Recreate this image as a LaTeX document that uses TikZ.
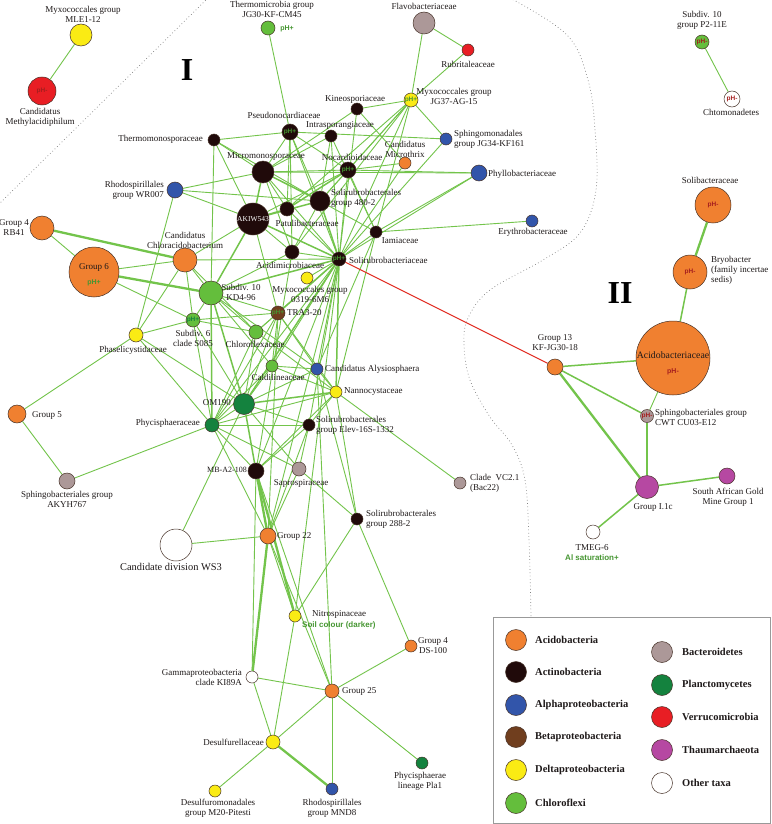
\documentclass[tikz,border=0pt]{standalone}
\usepackage{fontspec}
\setmainfont{Liberation Serif}
\setsansfont{Liberation Sans}
\usetikzlibrary{backgrounds}
\definecolor{cAcido}{RGB}{240,128,48}
\definecolor{cActino}{RGB}{32,10,10}
\definecolor{cAlpha}{RGB}{50,85,170}
\definecolor{cBeta}{RGB}{112,62,30}
\definecolor{cDelta}{RGB}{250,235,20}
\definecolor{cChloro}{RGB}{100,190,60}
\definecolor{cBacter}{RGB}{172,152,152}
\definecolor{cPlancto}{RGB}{20,130,62}
\definecolor{cVerru}{RGB}{232,30,36}
\definecolor{cThaum}{RGB}{182,72,162}
\definecolor{cEdge}{RGB}{115,196,75}
\definecolor{cPlus}{RGB}{70,150,50}
\definecolor{cMinus}{RGB}{165,30,30}
\definecolor{cBorder}{RGB}{70,50,40}
\definecolor{cText}{RGB}{30,25,25}
\tikzset{
 nd/.style={circle, draw=cBorder, line width=0.5pt, inner sep=0pt, minimum size=#1,
   font=\sffamily\bfseries\fontsize{6.5}{6.5}\selectfont},
 fAcido/.style={fill=cAcido}, fActino/.style={fill=cActino}, fAlpha/.style={fill=cAlpha},
 fBeta/.style={fill=cBeta}, fDelta/.style={fill=cDelta}, fChloro/.style={fill=cChloro},
 fBacter/.style={fill=cBacter}, fPlancto/.style={fill=cPlancto}, fVerru/.style={fill=cVerru},
 fThaum/.style={fill=cThaum}, fOther/.style={fill=white},
 plus/.style={text=cPlus}, minus/.style={text=cMinus},
 lbl/.style={text=cText, inner sep=0pt, font=\fontsize{9}{10}\selectfont},
 tag/.style={text=cPlus, inner sep=0pt, font=\sffamily\bfseries\fontsize{8}{9}\selectfont},
 ed/.style={draw=cEdge, line width=0.9pt},
 edm/.style={draw=cEdge, line width=1.5pt},
 edt/.style={draw=cEdge, line width=2.3pt},
 dotline/.style={draw=gray, line width=0.7pt, dash pattern=on 0.7pt off 2.6pt},
 legc/.style={circle, draw=cBorder, line width=0.5pt, minimum size=21pt, inner sep=0pt},
 legt/.style={text=cText, anchor=west, inner sep=0pt, font=\bfseries\fontsize{10.5}{12}\selectfont}
}
\begin{document}
\begin{tikzpicture}[x=1pt,y=-1pt]
\useasboundingbox (0,0) rectangle (771,824);
% dotted separators
\draw[dotline] (208,-2) -- (-2,205);
\draw[dotline] plot[smooth, tension=0.6] coordinates {(510,-2) (567,35) (588,80) (595,130) (596,190) (580,233) (543,260) (490,290) (468,318) (464,345) (470,380) (490,417) (512,445) (525,480) (529,540) (531,617)};
% big labels
\node[font=\bfseries\fontsize{32}{32}\selectfont, inner sep=0pt] (romI) at (187,70) {I};
\node[font=\bfseries\fontsize{32}{32}\selectfont, inner sep=0pt] (romII) at (620,293) {II};
% ---------------- nodes ----------------
\node[nd=22pt, fDelta] (mle) at (81,35) {};
\node[nd=28pt, fVerru, minus] (meth) at (42,91) {pH-};
\node[nd=14pt, fChloro] (thm) at (268,28) {};
\node[nd=22pt, fBacter] (flavo) at (424,23) {};
\node[nd=12pt, fVerru] (rubri) at (468,50) {};
\node[nd=14pt, fDelta, plus] (jg37) at (411,100) {pH+};
\node[nd=12pt, fAlpha] (jg34) at (446,139) {};
\node[nd=16pt, fAlpha] (phyl) at (479,173) {};
\node[nd=12pt, fAcido] (mx) at (405,163) {};
\node[nd=12pt, fActino] (kin) at (357,109) {};
\node[nd=16pt, fActino, plus] (pseu) at (290,132) {pH+};
\node[nd=12pt, fActino] (intra) at (331,136) {};
\node[nd=12pt, fActino] (thmo) at (214,140) {};
\node[nd=22pt, fActino] (micro) at (263,172) {};
\node[nd=16pt, fActino, plus] (noca) at (348,170) {pH+};
\node[nd=20pt, fActino] (s480) at (320,201) {};
\node[nd=30pt, fActino, text=white, font=\fontsize{7.5}{8}\selectfont] (akiw) at (253,219) {AKIW543};
\node[nd=14pt, fActino] (patu) at (287,209) {};
\node[nd=12pt, fActino] (iami) at (376,232) {};
\node[nd=14pt, fActino] (acid) at (292,252) {};
\node[nd=14pt, fActino, plus] (solr) at (339,259) {pH+};
\node[nd=12pt, fDelta] (my0319) at (307,278) {};
\node[nd=12pt, fAlpha] (eryth) at (532,221) {};
\node[nd=16pt, fAlpha] (wr007) at (175,190) {};
\node[nd=24pt, fAcido] (rb41) at (42,228) {};
\node[nd=50pt, fAcido] (g6) at (94,272) {};
\node[nd=24pt, fAcido] (cc) at (185,260) {};
\node[nd=24pt, fChloro] (s10) at (211,293) {};
\node[nd=14pt, fChloro, text=cPlancto] (s085) at (193,320) {pH+};
\node[nd=14pt, fDelta] (phas) at (136,335) {};
\node[nd=14pt, fBeta, plus] (tra) at (278,313) {pH+};
\node[nd=14pt, fChloro] (cf) at (256,332) {};
\node[nd=12pt, fChloro] (cd) at (272,366) {};
\node[nd=12pt, fAlpha] (aly) at (317,369) {};
\node[nd=12pt, fDelta] (nann) at (336,392) {};
\node[nd=21pt, fPlancto] (om190) at (244,404) {};
\node[nd=14pt, fPlancto] (phyc) at (212,425) {};
\node[nd=18pt, fAcido] (g5) at (17,414) {};
\node[nd=16pt, fBacter] (akyh) at (67,481) {};
\node[nd=12pt, fActino] (elev) at (309,425) {};
\node[nd=16pt, fActino] (mb) at (256,471) {};
\node[nd=14pt, fBacter] (sapr) at (299,469) {};
\node[nd=12pt, fBacter] (vc21) at (460,483) {};
\node[nd=12pt, fActino] (s288) at (357,519) {};
\node[nd=16pt, fAcido] (g22) at (268,536) {};
\node[nd=32pt, fOther] (ws3) at (176,545) {};
\node[nd=12pt, fDelta] (nitro) at (295,616) {};
\node[nd=12pt, fAcido] (ds100) at (411,646) {};
\node[nd=12pt, fOther] (ki89) at (252,677) {};
\node[nd=14pt, fAcido] (g25) at (332,691) {};
\node[nd=14pt, fDelta] (desf) at (273,742) {};
\node[nd=12pt, fPlancto] (pla1) at (422,763) {};
\node[nd=12pt, fDelta] (m20) at (215,791) {};
\node[nd=12pt, fAlpha] (mnd8) at (332,789) {};
\node[nd=14pt, fChloro, minus] (p211) at (702,42) {pH-};
\node[nd=16pt, fOther, minus] (chto) at (732,99) {pH-};
\node[nd=36pt, fAcido, minus] (soli) at (713,205) {pH-};
\node[nd=34pt, fAcido, minus] (bryo) at (690,272) {pH-};
\node[nd=74pt, fAcido] (acidob) at (673,358) {};
\node[nd=16pt, fAcido] (g13) at (555,367) {};
\node[nd=13pt, fBacter, minus] (cwt) at (647,416) {pH-};
\node[nd=23pt, fThaum] (gi1c) at (647,487) {};
\node[nd=16pt, fThaum] (safr) at (727,476) {};
\node[nd=14pt, fOther] (tmeg) at (593,532) {};
% texts inside big nodes
\node[lbl, font=\fontsize{9.8}{10}\selectfont] (acidobt) at (673,355) {Acidobacteriaceae};
\node[inner sep=0pt, text=cMinus, font=\sffamily\bfseries\fontsize{7}{7}\selectfont] (acidobp) at (673,372) {pH-};
\node[lbl] (g6t) at (94,267) {Group 6};
\node[inner sep=0pt, text=cPlus, font=\sffamily\bfseries\fontsize{7}{7}\selectfont] (g6p) at (94,283) {pH+};
% ---------------- labels ----------------
\node[lbl, align=center] (mleL) at (83,14) {Myxococcales group\\MLE1-12};
\node[lbl, align=center] (methL) at (40,117) {Candidatus\\Methylacidiphilum};
\node[lbl, align=center] (thmL) at (272,9) {Thermomicrobia group\\JG30-KF-CM45};
\node[tag, font=\sffamily\bfseries\fontsize{7}{7}\selectfont] (thmT) at (287,29) {pH+};
\node[lbl] (flavoL) at (424,6) {Flavobacteriaceae};
\node[lbl] (rubriL) at (468,64) {Rubritaleaceae};
\node[lbl, align=center] (jg37L) at (454,96) {Myxococcales group\\JG37-AG-15};
\node[lbl, align=left, anchor=west] (jg34L) at (454,139) {Sphingomonadales\\group JG34-KF161};
\node[lbl, anchor=west] (phylL) at (488,174) {Phyllobacteriaceae};
\node[lbl, align=center] (mxL) at (405,149) {Candidatus\\Microthrix};
\node[lbl] (kinL) at (355,99) {Kineosporiaceae};
\node[lbl] (pseuL) at (284,115) {Pseudonocardiaceae};
\node[lbl] (intraL) at (340,125) {Intrasporangiaceae};
\node[lbl, anchor=east] (thmoL) at (203,139) {Thermomonosporaceae};
\node[lbl] (microL) at (266,156) {Micromonosporaceae};
\node[lbl] (nocaL) at (352,157) {Nocardioidaceae};
\node[lbl, align=left, anchor=west] (s480L) at (331,198) {Solirubrobacterales\\group 480-2};
\node[lbl] (patuL) at (307,223) {Patulibacteraceae};
\node[lbl] (iamiL) at (400,241) {Iamiaceae};
\node[lbl] (acidL) at (290,265) {Acidimicrobiaceae};
\node[lbl, anchor=west] (solrL) at (349,260) {Solirubrobacteriaceae};
\node[lbl, align=center] (my0319L) at (310,294) {Myxococcales group\\0319-6M6};
\node[lbl] (erythL) at (533,232) {Erythrobacteraceae};
\node[lbl, align=right, anchor=east] (wr007L) at (164,190) {Rhodospirillales\\group WR007};
\node[lbl, align=center] (rb41L) at (14,228) {Group 4\\RB41};
\node[lbl, align=center] (ccL) at (185,240) {Candidatus\\Chloracidobacterium};
\node[lbl, align=center] (s10L) at (241,292) {Subdiv. 10\\KD4-96};
\node[lbl, align=center] (s085L) at (193,338) {Subdiv. 6\\clade S085};
\node[lbl] (phasL) at (133,350) {Phaselicystidaceae};
\node[lbl, anchor=west] (traL) at (287,313) {TRA3-20};
\node[lbl] (cfL) at (255,344) {Chloroflexaceae};
\node[lbl] (cdL) at (278,377) {Caldilineaceae};
\node[lbl, anchor=west] (alyL) at (325,369) {Candidatus Alysiosphaera};
\node[lbl, anchor=west] (nannL) at (344,392) {Nannocystaceae};
\node[lbl, anchor=east] (om190L) at (231,403) {OM190};
\node[lbl, anchor=east] (phycL) at (200,423) {Phycisphaeraceae};
\node[lbl, anchor=west] (g5L) at (32,415) {Group 5};
\node[lbl, align=center] (akyhL) at (67,499) {Sphingobacteriales group\\AKYH767};
\node[lbl, align=left, anchor=west] (elevL) at (316,425) {Solirubrobacterales\\group Elev-16S-1332};
\node[lbl, anchor=east, font=\fontsize{8}{9}\selectfont] (mbL) at (247,470) {MB-A2-108};
\node[lbl] (saprL) at (301,483) {Saprospiraceae};
\node[lbl, align=left, anchor=west] (vc21L) at (470,483) {Clade \ VC2.1\\(Bac22)};
\node[lbl, align=left, anchor=west] (s288L) at (366,519) {Solirubrobacterales\\group 288-2};
\node[lbl, anchor=west] (g22L) at (277,536) {Group 22};
\node[lbl, font=\fontsize{10.4}{11}\selectfont] (ws3L) at (171,567) {Candidate division WS3};
\node[lbl, anchor=west] (nitroL) at (312,614) {Nitrospinaceae};
\node[tag, anchor=west] (nitroT) at (302,625) {Soil colour (darker)};
\node[lbl, align=center] (ds100L) at (433,646) {Group 4\\DS-100};
\node[lbl, align=right, anchor=east] (ki89L) at (242,677) {Gammaproteobacteria\\clade KI89A};
\node[lbl, anchor=west] (g25L) at (342,691) {Group 25};
\node[lbl, anchor=east] (desfL) at (264,742) {Desulfurellaceae};
\node[lbl, align=center] (pla1L) at (420,781) {Phycisphaerae\\lineage Pla1};
\node[lbl, align=center] (m20L) at (218,808) {Desulfuromonadales\\group M20-Pitesti};
\node[lbl, align=center] (mnd8L) at (332,808) {Rhodospirillales\\group MND8};
\node[lbl, align=center] (p211L) at (702,20) {Subdiv. 10\\group P2-11E};
\node[lbl] (chtoL) at (731,112) {Chtomonadetes};
\node[lbl] (soliL) at (710,180) {Solibacteraceae};
\node[lbl, align=left, anchor=west] (bryoL) at (711,270) {Bryobacter\\(family incertae\\sedis)};
\node[lbl, align=center] (g13L) at (555,343) {Group 13\\KF-JG30-18};
\node[lbl, align=left, anchor=west] (cwtL) at (655,417) {Sphingobacteriales group\\CWT CU03-E12};
\node[lbl] (gi1cL) at (653,507) {Group I.1c};
\node[lbl, align=center] (safrL) at (728,497) {South African Gold\\Mine Group 1};
\node[lbl] (tmegL) at (592,548) {TMEG-6};
\node[tag] (tmegT) at (592,558) {Al saturation+};
% ---------------- edges ----------------
\begin{pgfonlayer}{background}
\fill[white] (0,0) rectangle (771,824);
\foreach \a/\b in {mle/meth, p211/chto, acidob/cwt,
 thm/pseu, flavo/rubri, flavo/jg37, rubri/jg37, jg37/kin, jg37/jg34, jg37/noca, jg37/s480,
 jg37/solr, jg37/iami, jg37/patu, jg37/acid, kin/micro, kin/solr, kin/mx,
 thmo/pseu, thmo/micro, thmo/s10, thmo/s480, thmo/akiw, pseu/micro, pseu/noca, pseu/s480,
 pseu/patu, pseu/acid, pseu/solr, intra/micro, intra/s480, intra/solr, intra/iami,
 micro/noca, micro/patu, micro/solr, micro/wr007, micro/acid, micro/phyl, noca/s480,
 noca/solr, noca/iami, noca/phyl, noca/akiw, mx/solr, mx/noca, jg34/pseu, jg34/solr,
 phyl/solr, phyl/iami, eryth/iami, s480/iami, s480/acid, s480/wr007,
 akiw/acid, akiw/wr007, akiw/cc, akiw/tra, patu/solr, iami/solr, acid/solr,
 acid/s10, solr/my0319, solr/cc, solr/cf, solr/cd, solr/aly, solr/phyc, solr/mb,
 solr/g22, solr/elev, iami/nann, iami/aly, wr007/phas, rb41/g6, g6/cc, g6/s085,
 cc/s10, cc/s085, cc/cf, cc/phas, s10/s085, s10/cf, s10/tra, s10/cd, s10/aly,
 s085/phas, s085/tra, s085/phyc, s085/om190, s085/cf, phas/g5, phas/phyc, phas/om190,
 g5/akyh, akyh/phyc, tra/cf, tra/cd, tra/om190, tra/aly, tra/nann, tra/phyc, cf/om190,
 cf/phyc, cf/nann, cd/om190, cd/phyc, cd/aly, cd/nann, aly/nann, aly/om190,
 nann/phyc, nann/elev, nann/vc21, nann/mb, nann/s288, om190/phyc, om190/elev,
 om190/ws3, om190/sapr, phyc/mb, phyc/elev, phyc/g22, phyc/sapr, elev/mb, elev/sapr,
 elev/g22, mb/g25, mb/ki89, sapr/s288, sapr/g22, g22/ws3, g22/g25, g22/nitro,
 s288/nitro, s288/ds100, s288/aly, nitro/desf, ki89/g25, ki89/desf, g25/ds100,
 g25/desf, g25/mnd8, g25/pla1, desf/m20, solr/nitro, aly/g25, tra/g22, acid/mb}
 \draw[ed] (\a) -- (\b);
\foreach \a/\b in {micro/akiw, micro/s480, akiw/s480, akiw/patu, akiw/s10, akiw/solr,
 s480/solr, noca/patu, s10/phyc, s10/om190, solr/tra, solr/s10, solr/om190, nann/om190,
 mb/om190, solr/nann, bryo/acidob, acidob/g13, g13/cwt, cwt/gi1c, gi1c/safr, gi1c/tmeg}
 \draw[edm] (\a) -- (\b);
\foreach \a/\b in {rb41/cc, g6/s10, mb/g22, mb/nitro, g22/ki89, desf/mnd8, soli/bryo,
 g13/gi1c}
 \draw[edt] (\a) -- (\b);
\draw[draw={rgb,255:red,225;green,40;blue,30}, line width=0.9pt] (solr) -- (g13);
\end{pgfonlayer}
% ---------------- legend ----------------
\draw[draw=gray!80, line width=0.6pt, fill=white] (493,617) rectangle (770,823);
\node[legc, fAcido] (lg1) at (516,640) {}; \node[legt] (lt1) at (535,640) {Acidobacteria};
\node[legc, fActino] (lg2) at (516,672) {}; \node[legt] (lt2) at (535,672) {Actinobacteria};
\node[legc, fAlpha] (lg3) at (516,705) {}; \node[legt] (lt3) at (535,705) {Alphaproteobacteria};
\node[legc, fBeta] (lg4) at (516,737) {}; \node[legt] (lt4) at (535,737) {Betaproteobacteria};
\node[legc, fDelta] (lg5) at (516,770) {}; \node[legt] (lt5) at (535,770) {Deltaproteobacteria};
\node[legc, fChloro] (lg6) at (516,803) {}; \node[legt] (lt6) at (535,803) {Chloroflexi};
\node[legc, fBacter] (lg7) at (662,652) {}; \node[legt] (lt7) at (682,652) {Bacteroidetes};
\node[legc, fPlancto] (lg8) at (662,685) {}; \node[legt] (lt8) at (682,685) {Planctomycetes};
\node[legc, fVerru] (lg9) at (662,717) {}; \node[legt] (lt9) at (682,717) {Verrucomicrobia};
\node[legc, fThaum] (lg10) at (662,750) {}; \node[legt] (lt10) at (682,750) {Thaumarchaeota};
\node[legc, fOther] (lg11) at (662,783) {}; \node[legt] (lt11) at (682,783) {Other taxa};
\end{tikzpicture}
\end{document}
